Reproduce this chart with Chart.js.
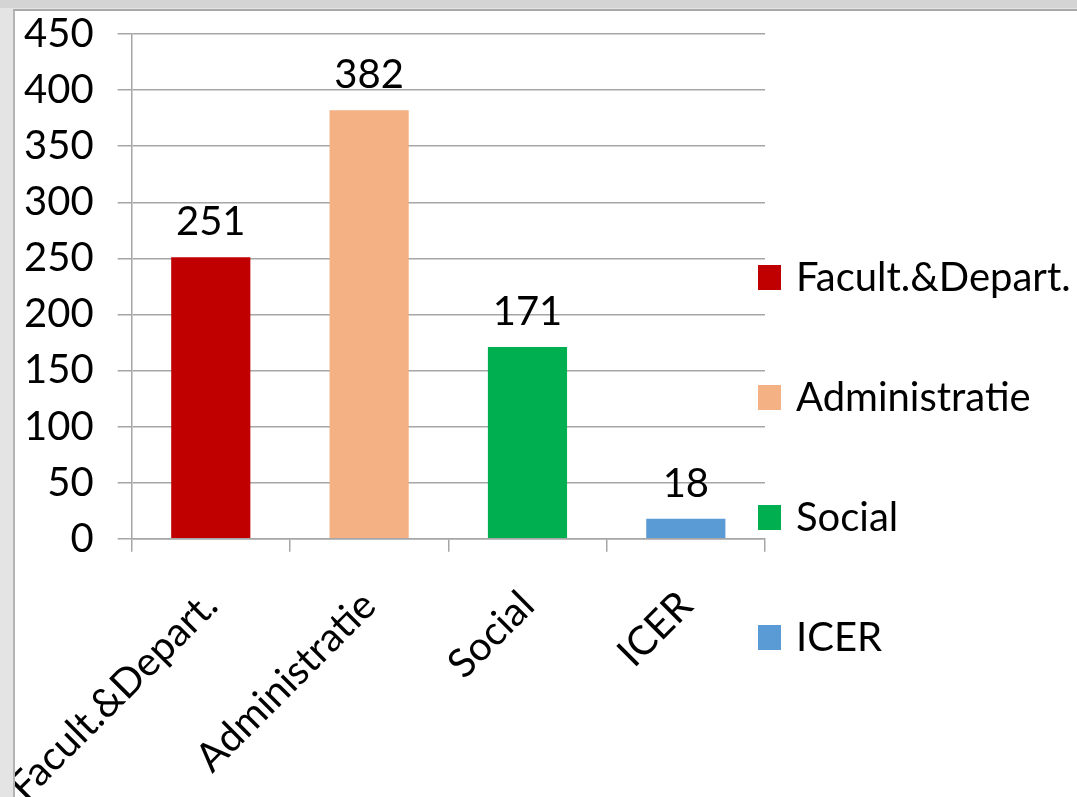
<!DOCTYPE html>
<html lang="nl">
<head>
<meta charset="UTF-8">
<title>Aantal per afdeling</title>
<script src="https://cdn.jsdelivr.net/npm/chart.js"></script>
<style>
  body { margin: 0; background: #e4e4e4; width: 1077px; height: 797px; overflow: hidden; }
  .topstrip { position: absolute; left: 0; top: 0; width: 1077px; height: 8px; background: #d4d4d4; }
  .panel { position: absolute; left: 13px; top: 9px; width: 1064px; height: 788px; background: #fff; overflow: hidden;
           border-top: 2px solid #a9a9a9; border-left: 2px solid #b4b4b4; box-sizing: border-box; }
  /* grafiek iets groter dan het paneel, zodat de schuine labels net als in Excel afgesneden worden */
  .wrap { position: absolute; left: -51px; top: -25px; width: 1113px; height: 854px; }
</style>
</head>
<body>
<div class="topstrip"></div>
<div class="panel">
  <div class="wrap"><canvas id="grafiek"></canvas></div>
</div>

<script>
var categorieen = ['Facult.&Depart.', 'Administratie', 'Social', 'ICER'];
var aantallen = [251, 382, 171, 18];
var kleuren = ['#c00000', '#f4b183', '#00b050', '#5b9bd5'];
var yTicks = [0, 50, 100, 150, 200, 250, 300, 350, 400, 450];

var lettertype = { family: 'Lato', size: 40 };

// waarde boven elke staaf
var waardeLabels = {
  id: 'waardeLabels',
  afterDatasetsDraw: function (chart) {
    var ctx = chart.ctx;
    var meta = chart.getDatasetMeta(0);
    ctx.save();
    ctx.font = lettertype.size + 'px ' + lettertype.family;
    ctx.fillStyle = '#000';
    ctx.textAlign = 'center';
    ctx.textBaseline = 'alphabetic';
    meta.data.forEach(function (bar, i) {
      ctx.fillText(aantallen[i], bar.x, bar.y - 22);
    });
    ctx.restore();
  }
};

// legenda rechts, zoals in Excel
var legendaRechts = {
  id: 'legendaRechts',
  afterDraw: function (chart) {
    var ctx = chart.ctx;
    var x = chart.chartArea.right - 7;
    ctx.save();
    ctx.font = lettertype.size + 'px ' + lettertype.family;
    ctx.textBaseline = 'alphabetic';
    ctx.textAlign = 'left';
    for (var i = 0; i < categorieen.length; i++) {
      var y = chart.chartArea.top + 243 + i * 120;
      ctx.fillStyle = kleuren[i];
      ctx.fillRect(x, y - 12, 23, 25);
      ctx.fillStyle = '#000';
      ctx.fillText(categorieen[i], x + 38, y + 14);
    }
    ctx.restore();
  }
};

var ctx = document.getElementById('grafiek').getContext('2d');
var grafiek = new Chart(ctx, {
  type: 'bar',
  data: {
    labels: categorieen,
    datasets: [{
      data: aantallen,
      backgroundColor: kleuren,
      categoryPercentage: 1,
      barPercentage: 0.5
    }]
  },
  options: {
    responsive: true,
    maintainAspectRatio: false,
    animation: false,
    layout: { padding: { left: 36, right: 312, top: 0, bottom: 0 } },
    plugins: {
      legend: { display: false },
      tooltip: { enabled: false }
    },
    scales: {
      x: {
        offset: true,
        grid: { offset: true, drawOnChartArea: false, color: '#a6a6a6', lineWidth: 1.5, tickLength: 13 },
        border: { color: '#a6a6a6', width: 1.5 },
        ticks: { color: '#000', font: lettertype, minRotation: 45, maxRotation: 45, padding: 30 }
      },
      y: {
        min: 0,
        max: 450,
        afterBuildTicks: function (schaal) {
          schaal.ticks = yTicks.map(function (v) { return { value: v }; });
        },
        grid: { color: '#a6a6a6', lineWidth: 1.5, tickLength: 14 },
        border: { color: '#a6a6a6', width: 1.5 },
        ticks: { color: '#000', font: lettertype, padding: 24, autoSkip: false }
      }
    }
  },
  plugins: [waardeLabels, legendaRechts]
});
</script>
</body>
</html>
